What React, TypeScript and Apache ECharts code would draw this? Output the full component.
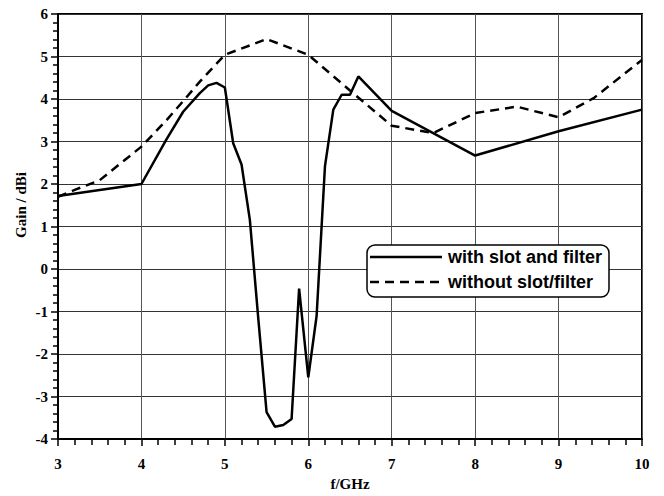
import React, { useEffect, useRef } from "react";
import * as echarts from "echarts";

const withSlotF = [3.0, 4.0, 4.3, 4.5, 4.7, 4.8, 4.9, 5.0, 5.1, 5.2, 5.3, 5.4, 5.5, 5.6, 5.7, 5.8, 5.89, 6.0, 6.1, 6.2, 6.3, 6.4, 6.5, 6.6, 7.0, 8.0, 9.0, 10.0];
const withSlotGain = [1.72, 2.0, 3.05, 3.7, 4.14, 4.32, 4.38, 4.27, 2.96, 2.46, 1.15, -1.15, -3.37, -3.71, -3.67, -3.53, -0.46, -2.55, -1.1, 2.42, 3.75, 4.1, 4.1, 4.53, 3.72, 2.67, 3.24, 3.75];

const withoutF = [3.0, 3.2, 3.5, 4.0, 4.3, 4.5, 4.7, 5.0, 5.5, 6.0, 6.5, 7.0, 7.5, 8.0, 8.5, 9.0, 9.42, 10.0];
const withoutGain = [1.7, 1.86, 2.09, 2.88, 3.5, 3.95, 4.41, 5.04, 5.41, 5.04, 4.2, 3.37, 3.2, 3.67, 3.82, 3.57, 4.02, 4.92];

const seriesNames = ["with slot and filter", "without slot/filter"];
const xTitle = "f/GHz";
const yTitle = "Gain / dBi";

export default function App() {
  const ref = useRef<HTMLDivElement>(null);
  useEffect(() => {
    if (!ref.current) return;
    const chart = echarts.init(ref.current, null, { renderer: "svg" });
    const serif = "Liberation Serif";
    const sans = "Liberation Sans";
    const dash = [9, 6];
    const legendText = (name: string, y: number) => ({
      type: "text",
      x: 448,
      y,
      z: 101,
      style: {
        text: name,
        fontFamily: sans,
        fontWeight: "bold",
        fontSize: 18,
        fill: "#000",
        verticalAlign: "middle",
        align: "left",
      },
    });
    chart.setOption({
      animation: false,
      backgroundColor: "#ffffff",
      grid: {
        left: 58,
        right: 22,
        top: 14,
        bottom: 56,
        show: true,
        borderColor: "#000",
        borderWidth: 2,
      },
      graphic: [
        {
          type: "text",
          x: 21,
          y: 205,
          rotation: Math.PI / 2,
          z: 50,
          style: {
            text: yTitle,
            fontFamily: serif,
            fontWeight: "bold",
            fontSize: 15,
            fill: "#000",
            align: "center",
            verticalAlign: "middle",
          },
        },
        {
          type: "rect",
          z: 100,
          shape: { x: 367, y: 245, width: 242, height: 52, r: 8 },
          style: { fill: "#fff", stroke: "#000", lineWidth: 1.5 },
        },
        {
          type: "line",
          z: 101,
          shape: { x1: 370, y1: 257, x2: 442, y2: 257 },
          style: { stroke: "#000", lineWidth: 2.5 },
        },
        {
          type: "line",
          z: 101,
          shape: { x1: 370, y1: 282, x2: 442, y2: 282 },
          style: { stroke: "#000", lineWidth: 2.5, lineDash: dash },
        },
        legendText(seriesNames[0], 257),
        legendText(seriesNames[1], 282),
      ],
      xAxis: {
        type: "value",
        min: 3,
        max: 10,
        interval: 1,
        name: xTitle,
        nameLocation: "middle",
        nameGap: 37,
        nameTextStyle: { fontFamily: serif, fontWeight: "bold", fontSize: 15, color: "#000" },
        axisLine: { show: true, onZero: false, lineStyle: { color: "#000", width: 2 } },
        axisTick: { show: true, length: 7, lineStyle: { color: "#000", width: 1.5 } },
        minorTick: { show: true, splitNumber: 5, length: 6, lineStyle: { color: "#000", width: 1.5 } },
        axisLabel: { fontFamily: serif, fontWeight: "bold", fontSize: 15, color: "#000", margin: 17 },
        splitLine: { show: true, lineStyle: { color: "#555", width: 1 } },
      },
      yAxis: {
        type: "value",
        min: -4,
        max: 6,
        interval: 1,
        axisLine: { show: true, onZero: false, lineStyle: { color: "#000", width: 2 } },
        axisTick: { show: true, length: 7, lineStyle: { color: "#000", width: 1.5 } },
        minorTick: { show: true, splitNumber: 5, length: 5, lineStyle: { color: "#000", width: 1.5 } },
        axisLabel: { fontFamily: serif, fontWeight: "bold", fontSize: 15, color: "#000", margin: 10 },
        splitLine: { show: true, lineStyle: { color: "#333", width: 1 } },
      },
      series: [
        {
          name: seriesNames[0],
          type: "line",
          symbol: "none",
          data: withSlotF.map((f, i) => [f, withSlotGain[i]]),
          lineStyle: { color: "#000", width: 2.5, type: "solid" },
          itemStyle: { color: "#000" },
        },
        {
          name: seriesNames[1],
          type: "line",
          symbol: "none",
          data: withoutF.map((f, i) => [f, withoutGain[i]]),
          lineStyle: { color: "#000", width: 2.5, type: dash },
          itemStyle: { color: "#000" },
        },
      ],
    });
    return () => chart.dispose();
  }, []);
  return <div ref={ref} style={{ width: 664, height: 496, position: "absolute", left: 0, top: 0 }} />;
}
